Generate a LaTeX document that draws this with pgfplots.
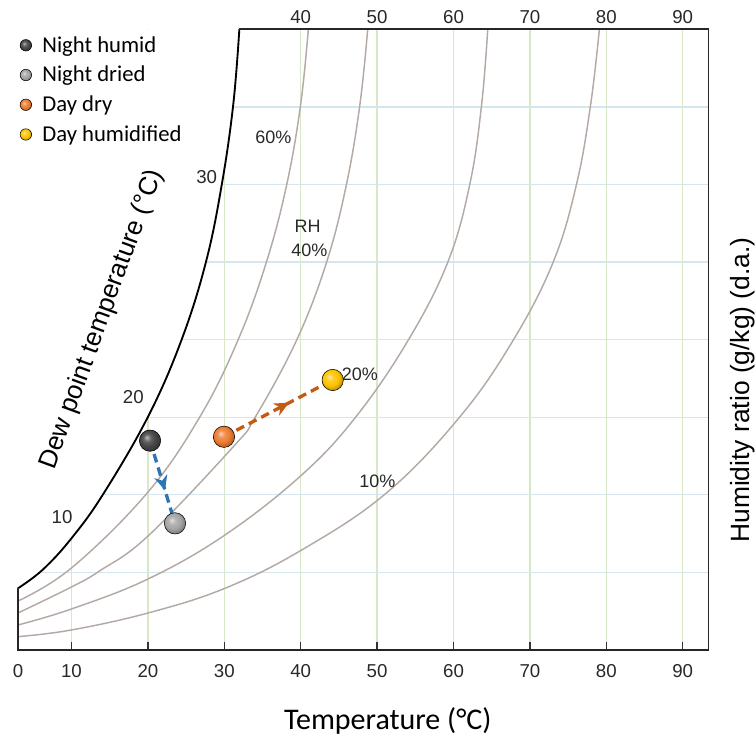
\documentclass[border=0pt]{standalone}
\usepackage{pgfplots}
\pgfplotsset{compat=1.18}
\usepackage{fontspec}
\setmainfont{Liberation Sans}
\newfontfamily\calib{Carlito}
\usetikzlibrary{decorations.markings,arrows.meta}
\definecolor{rhc}{RGB}{180,170,164}
\definecolor{vgrid}{RGB}{216,232,198}
\definecolor{hgrid}{RGB}{214,230,238}
\definecolor{bluearr}{RGB}{46,117,182}
\definecolor{brownarr}{RGB}{197,90,17}
\definecolor{txt}{RGB}{40,40,40}
\definecolor{dotblack}{RGB}{70,70,70}
\definecolor{dotgray}{RGB}{165,165,165}
\definecolor{dotorange}{RGB}{237,125,49}
\definecolor{dotyellow}{RGB}{255,196,0}
\makeatletter
\pgfdeclareradialshading[tikz@ball]{ball}{\pgfqpoint{-8bp}{8bp}}{%
  color(0bp)=(tikz@ball!35!white);
  color(9bp)=(tikz@ball!85!white);
  color(18bp)=(tikz@ball);
  color(26bp)=(tikz@ball!80!black);
  color(50bp)=(tikz@ball!60!black)}
\makeatother
\begin{document}
\begin{tikzpicture}
\begin{axis}[
  scale only axis, width=518pt, height=465.5pt,
  xmin=3, xmax=93.4, ymin=0, ymax=40,
  axis line style={draw=none},
  clip=false,
  xtick={10,20,30,40,50,60,70,80,90},
  xticklabels={\mbox{10},\mbox{20},\mbox{30},\mbox{40},\mbox{50},\mbox{60},\mbox{70},\mbox{80},\mbox{90}},
  extra x ticks={3}, extra x tick labels={\mbox{0}},
  extra x tick style={grid=none},
  xtick pos=left, tick align=inside,
  major tick length=6pt,
  x tick style={color=black!80, line width=1.1pt},
  ytick={5,10,15,20,25,30,35}, yticklabels={}, y tick style={draw=none},
  xmajorgrids, ymajorgrids,
  x grid style={vgrid, line width=1pt},
  y grid style={hgrid, line width=1pt},
  xticklabel style={font=\fontsize{14}{16}\selectfont, text=txt, anchor=base, yshift=-20.7pt},
  legend style={at={(axis cs:3.0,39.73)}, anchor=north west, draw=none, fill=none,
    font=\calib\fontsize{17}{20}\selectfont, row sep=5pt, inner sep=0pt, text=black},
  legend cell align=left,
  legend image code/.code={\path[draw=none,fill=none] (0cm,0cm) rectangle (0.565cm,0cm); \draw[#1] plot coordinates {(0.2cm,0cm)};},
]
% white mask above saturation curve
\addplot[draw=none, fill=white, forget plot] coordinates {(3,3.976) (6.27,5.188) (10,7.198) (14.16,10.053) (20.02,15.035) (24.40,19.977) (27.61,25.023) (29.70,30.075) (31.18,35.186) (31.97,40) (3,40)};
% RH curves
\addplot[rhc, line width=1.1pt, smooth, tension=0.65, forget plot] coordinates {(3,3.158) (10,5.284) (19.88,10.098) (26.82,15.035) (31.80,19.977) (35.53,25.023) (38.21,30.075) (40.0,35.186) (41.0,40)};
\addplot[rhc, line width=1.1pt, smooth, tension=0.65, forget plot] coordinates {(3,2.384) (10,4.060) (13.73,5.110) (20.02,7.347) (31.18,13.101) (34.09,15.035) (39.48,19.977) (43.41,25.023) (46.02,30.075) (47.76,35.186) (48.77,40)};
\addplot[rhc, line width=1.1pt, smooth, tension=0.65, forget plot] coordinates {(3,1.611) (10,2.642) (20.02,4.575) (30.09,7.411) (40.13,11.278) (47.24,15.035) (54.09,19.977) (59.28,25.023) (62.16,30.075) (63.69,35.186) (64.48,40)};
\addplot[rhc, line width=1.1pt, smooth, tension=0.65, forget plot] coordinates {(3,0.857) (10,1.289) (20.02,2.384) (30.09,3.976) (40.13,6.444) (51.17,10.098) (60.85,15.035) (67.83,19.977) (73.07,25.023) (76.13,30.075) (77.96,35.186) (79.09,40)};
% saturation curve
\addplot[black, line width=1.4pt, smooth, tension=0.65, forget plot] coordinates {(3,3.976) (6.27,5.188) (10,7.198) (14.16,10.053) (20.02,15.035) (24.40,19.977) (27.61,25.023) (29.70,30.075) (31.18,35.186) (31.97,40)};
% frame
\addplot[black!85, line width=1.2pt, forget plot] coordinates {(3,3.976) (3,0) (93.4,0) (93.4,40) (31.97,40)};
% process arrows
\addplot[bluearr, line width=2.5pt, dash pattern=on 6.5pt off 4pt, forget plot,
  postaction={decorate}, decoration={markings, mark=at position 0.6 with {\arrow{Stealth[length=11pt,width=10pt,inset=3.5pt]}}}]
  coordinates {(20.28,13.49) (23.55,8.16)};
\addplot[brownarr, line width=2.5pt, dash pattern=on 6.5pt off 4pt, forget plot,
  postaction={decorate}, decoration={markings, mark=at position 0.6 with {\arrow{Stealth[length=11pt,width=10pt,inset=3.5pt]}}}]
  coordinates {(29.96,13.74) (44.19,17.40)};
% state points
\addplot[only marks, mark=ball, mark size=8pt, mark options={ball color=dotblack}, legend image post style={mark size=4.3pt}] coordinates {(20.28,13.49)};
\addlegendentry{Night humid}
\addplot[only marks, mark=ball, mark size=8pt, mark options={ball color=dotgray}, legend image post style={mark size=4.3pt}] coordinates {(23.55,8.16)};
\addlegendentry{Night dried}
\addplot[only marks, mark=ball, mark size=8pt, mark options={ball color=dotorange}, legend image post style={mark size=4.3pt}] coordinates {(29.96,13.74)};
\addlegendentry{Day dry}
\addplot[only marks, mark=ball, mark size=8pt, mark options={ball color=dotyellow}, legend image post style={mark size=4.3pt}] coordinates {(44.19,17.40)};
\addlegendentry{Day humidified}
% labels
\foreach \t in {40,50,60,70,80,90}{
  \edef\temp{\noexpand\node[font=\noexpand\fontsize{14}{16}\noexpand\selectfont, text=txt, anchor=base, yshift=4.2pt] at (axis cs:\t,40) {\t};}
  \temp
}
\node[font=\fontsize{14}{16}\selectfont, text=txt] at (axis cs:8.76,8.57) {10};
\node[font=\fontsize{14}{16}\selectfont, text=txt] at (axis cs:18.09,16.32) {20};
\node[font=\fontsize{14}{16}\selectfont, text=txt] at (axis cs:27.7,30.5) {30};
\node[font=\fontsize{13.5}{16}\selectfont, text=txt] at (axis cs:36.42,33.01) {60\%};
\node[font=\fontsize{13.5}{16}\selectfont, text=txt] at (axis cs:40.92,27.28) {RH};
\node[font=\fontsize{13.5}{16}\selectfont, text=txt] at (axis cs:41.13,25.73) {40\%};
\node[font=\fontsize{13.5}{16}\selectfont, text=txt] at (axis cs:47.76,17.78) {20\%};
\node[font=\fontsize{13.5}{16}\selectfont, text=txt] at (axis cs:50.03,10.84) {10\%};
\node[font=\fontsize{19.5}{22}\selectfont, text=black, rotate=70] at (axis cs:14.0,21.3) {Dew point temperature (°C)};
\node[font=\fontsize{19.8}{22}\selectfont, text=black, rotate=90, anchor=base] at (axis cs:98.68,16.75) {Humidity ratio (g/kg) (d.a.)};
\node[font=\calib\fontsize{22.5}{26}\selectfont, text=black, anchor=base] at (axis cs:51.4,-5.15) {Temperature (°C)};
\coordinate (bbll) at (rel axis cs:-0.02606,-0.1531);
\coordinate (bbur) at (rel axis cs:1.0685,1.0472);
\end{axis}
\pgfresetboundingbox
\path[use as bounding box] (bbll) rectangle (bbur);
\end{tikzpicture}
\end{document}
